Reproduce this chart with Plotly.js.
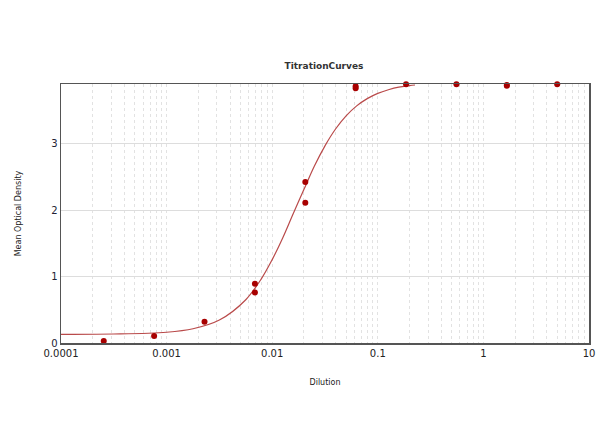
<!DOCTYPE html>
<html>
<head>
<meta charset="utf-8">
<script src="https://cdn.plot.ly/plotly-3.0.1.min.js"></script>
<style>html,body{margin:0;padding:0;background:#fff;}#chart{width:600px;height:447px;}</style>
</head>
<body>
<div id="chart"></div>
<script>
// Measured points (dilution, mean optical density)
const pointDilution = [0.000254, 0.000762, 0.002286, 0.00686, 0.00686, 0.02058, 0.02058, 0.0617, 0.0617, 0.1852, 0.5556, 1.6667, 1.6667, 5.0];
const pointOD       = [0.03, 0.105, 0.32, 0.89, 0.76, 2.42, 2.11, 3.86, 3.83, 3.89, 3.89, 3.88, 3.87, 3.89];

// Fitted curve
const curveDilution = [0.0001, 0.000316, 0.001, 0.00178, 0.00316, 0.00562, 0.00794, 0.01, 0.0126, 0.0158, 0.02, 0.0251, 0.0316, 0.0398, 0.0501, 0.0631, 0.0794, 0.1, 0.126, 0.158, 0.2, 0.225];
const curveOD       = [0.131, 0.135, 0.162, 0.214, 0.345, 0.651, 0.972, 1.254, 1.584, 1.945, 2.311, 2.661, 2.965, 3.218, 3.416, 3.566, 3.675, 3.754, 3.808, 3.847, 3.870, 3.880];

// Axis ticks
const xTickVals = [0.0001, 0.001, 0.01, 0.1, 1, 10];
const xTickText = ["0.0001", "0.001", "0.01", "0.1", "1", "10"];
const yTickVals = [0, 1, 2, 3];

const traces = [
  {
    x: curveDilution, y: curveOD, type: "scatter", mode: "lines",
    line: {color: "#b94a4a", width: 1.2, shape: "spline"},
    hoverinfo: "skip", showlegend: false, cliponaxis: true
  },
  {
    x: pointDilution, y: pointOD, type: "scatter", mode: "markers",
    marker: {color: "#a80000", size: 6},
    showlegend: false, cliponaxis: false
  }
];

const layout = {
  width: 600, height: 447,
  margin: {l: 61, r: 11, t: 84, b: 104},
  paper_bgcolor: "#ffffff", plot_bgcolor: "#ffffff",
  font: {family: "DejaVu Sans, Arial, sans-serif", color: "#222"},
  title: {text: "TitrationCurves", x: 0.54, xanchor: "center", y: 0.853, yanchor: "middle",
          font: {size: 9, color: "#333", family: "DejaVu Sans, Arial, sans-serif", weight: "bold"}},
  xaxis: {
    type: "log", range: [-4, 1],
    tickvals: xTickVals, ticktext: xTickText, ticks: "", ticklen: 0,
    tickfont: {size: 10, color: "#222"},
    showgrid: true, gridcolor: "#e2e2e2", gridwidth: 1, griddash: "dot",
    minor: {dtick: "D1", showgrid: true, gridcolor: "#e2e2e2", griddash: "dot", gridwidth: 1, ticks: ""},
    showline: true, linecolor: "#555", linewidth: 1.5, mirror: true,
    zeroline: false,
    title: {text: "Dilution", font: {size: 8, color: "#222"}, standoff: 22}
  },
  yaxis: {
    range: [0, 3.895],
    tickvals: yTickVals, ticks: "", ticklen: 0,
    tickfont: {size: 10, color: "#223"},
    showgrid: true, gridcolor: "#dddddd", gridwidth: 1,
    showline: true, linecolor: "#555", linewidth: 1.5, mirror: true,
    zeroline: false,
    title: {text: "Mean Optical Density", font: {size: 8, color: "#222"}, standoff: 28}
  }
};

Plotly.newPlot("chart", traces, layout, {displayModeBar: false, staticPlot: true});
</script>
</body>
</html>
